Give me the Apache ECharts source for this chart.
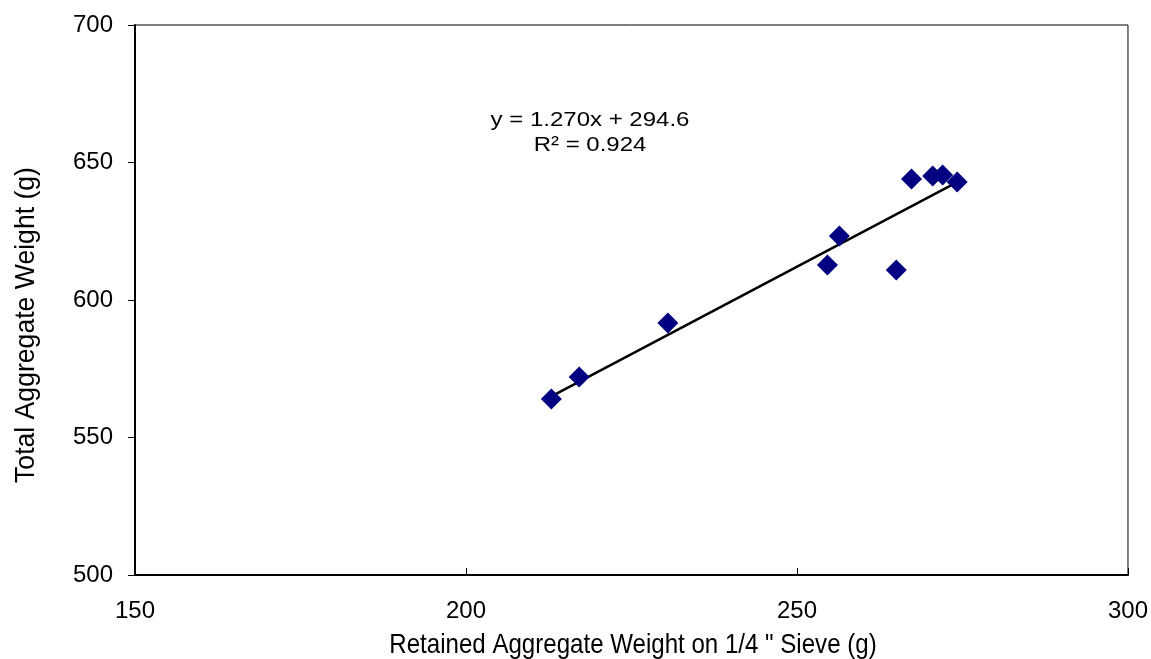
<!DOCTYPE html>
<html>
<head>
<meta charset="utf-8">
<script src="https://cdn.jsdelivr.net/npm/echarts@6/dist/echarts.min.js"></script>
<style>html,body{margin:0;padding:0;background:#fff;}#c{width:1151px;height:659px;}</style>
</head>
<body>
<div id="c"></div>
<script>
const xValues = [212.9, 217.1, 230.5, 254.6, 256.4, 265.0, 267.3, 270.5, 272.0, 274.2];
const yValues = [564.0, 572.0, 591.6, 612.7, 623.3, 610.9, 644.0, 645.1, 645.5, 642.9];
const slope = 1.270;
const intercept = 294.6;
const eqLabel = 'y = 1.270x + 294.6';
const r2Label = 'R² = 0.924';
const xTitle = 'Retained Aggregate Weight on 1/4 " Sieve (g)';
const yTitle = 'Total Aggregate Weight (g)';

const points = xValues.map((x, i) => [x, yValues[i]]);
const xMin = Math.min(...xValues), xMax = Math.max(...xValues);
const trend = [[xMin, slope * xMin + intercept], [xMax, slope * xMax + intercept]];

const chart = echarts.init(document.getElementById('c'));
const font = '"Liberation Sans", Arial, sans-serif';
chart.setOption({
  animation: false,
  backgroundColor: '#fff',
  grid: { left: 135, right: 21, top: 25, bottom: 84, show: true, borderColor: '#000', borderWidth: 1 },
  xAxis: {
    type: 'value', min: 150, max: 300, interval: 50,
    axisLine: { lineStyle: { color: '#000', width: 2 } },
    axisTick: { inside: true, length: 7, lineStyle: { color: '#000' } },
    axisLabel: { fontFamily: font, fontSize: 24, color: '#000', margin: 24 },
    splitLine: { show: false }
  },
  yAxis: {
    type: 'value', min: 500, max: 700, interval: 50,
    axisLine: { show: true, lineStyle: { color: '#000', width: 2 } },
    axisTick: { show: true, length: 7, lineStyle: { color: '#000' } },
    axisLabel: { fontFamily: font, fontSize: 24, color: '#000', margin: 22 },
    splitLine: { show: false }
  },
  series: [
    {
      type: 'line', data: trend, symbol: 'none',
      lineStyle: { color: '#000', width: 2.5 }, z: 2
    },
    {
      type: 'scatter', data: points, symbol: 'diamond', symbolSize: 21,
      itemStyle: { color: '#000080', opacity: 1 }, z: 3
    }
  ],
  graphic: [
    { type: 'text', x: 590, y: 120.5, scaleX: 1.2,
      style: { text: eqLabel, font: '20px ' + font, fill: '#000', textAlign: 'center', textVerticalAlign: 'middle' } },
    { type: 'text', x: 590, y: 145.5, scaleX: 1.2,
      style: { text: r2Label, font: '20px ' + font, fill: '#000', textAlign: 'center', textVerticalAlign: 'middle' } },
    { type: 'text', x: 633, y: 645, scaleX: 0.86,
      style: { text: xTitle, font: '28px ' + font, fill: '#000', textAlign: 'center', textVerticalAlign: 'middle' } },
    { type: 'text', x: 26, y: 325, scaleX: 0.95, rotation: Math.PI / 2,
      style: { text: yTitle, font: '28px ' + font, fill: '#000', textAlign: 'center', textVerticalAlign: 'middle' } }
  ]
});
</script>
</body>
</html>
